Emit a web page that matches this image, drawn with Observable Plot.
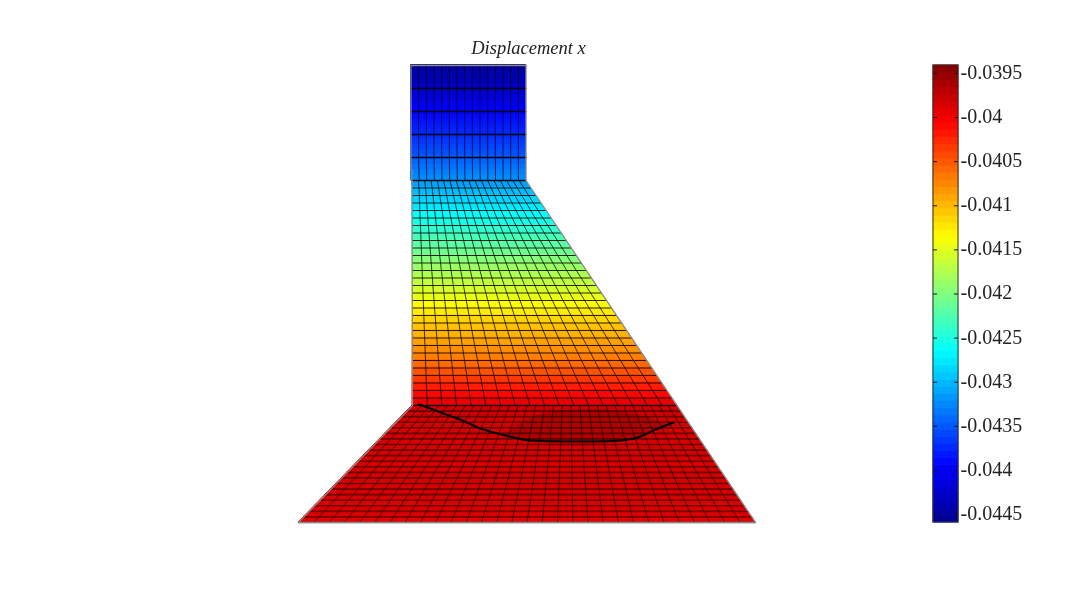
<!DOCTYPE html>
<html>
<head>
<meta charset="utf-8">
<script src="https://cdn.jsdelivr.net/npm/d3@7"></script>
<script src="https://cdn.jsdelivr.net/npm/@observablehq/plot@0.6"></script>
<style>
html,body{margin:0;padding:0;background:#fff;width:1080px;height:608px;overflow:hidden}
#main,#bar{position:absolute;top:0}
#main{left:0}
#bar{left:920px}
svg{display:block;background:transparent;filter:blur(0.35px)}
</style>
</head>
<body>
<div id="main"></div>
<div id="bar"></div>
<script>
// ---- Title and colour bar ----
const titleText = "Displacement x";
const tickValues = [-0.0395,-0.04,-0.0405,-0.041,-0.0415,-0.042,-0.0425,-0.043,-0.0435,-0.044,-0.0445];
const tickLabels = ["-0.0395","-0.04","-0.0405","-0.041","-0.0415","-0.042","-0.0425","-0.043","-0.0435","-0.044","-0.0445"];
const valueMin = -0.04459, valueMax = -0.03941;
// jet colour map stops (fractions of the value range)
const jetFractions = [0,0.125,0.375,0.625,0.875,1];
const jetColors = ["#000090","#0000ff","#00ffff","#ffff00","#ff0000","#800000"];

// ---- Upper block: mesh rows, colour bands ----
const blockRowY = [65,88,111,134,157,180];
const blockLeft = [410.5,410.5,410.5,410.5,410.5,411];
const blockRight = [525.5,525.5,525.5,525.5,525.5,525.5];
const blockColumns = 15;
const blockBandY = [65,70,75,80,85,90,95,100,105,110,115,120,125,130,135,140,145,150,155,160,165,170,175,180];
const blockBandValue = [-.04454,-.04448,-.04443,-.04437,-.04431,-.04425,-.04418,-.0441,-.04402,-.04395,-.04391,-.04386,-.04382,-.04378,-.04373,-.04368,-.04362,-.04357,-.04352,-.04346,-.0434,-.04333,-.04327,-.0432];

// ---- Sloped dam body ----
const damRowY = [180,187.5,195,202.5,210,217.5,225,232.5,240,247.5,255,262.5,270,277.5,285,292.5,300,307.5,315,322.5,330,337.5,345,352.5,360,367.5,375,382.5,390,397.5,405];
const damLeft = [411.5,412,412,412,412,412,412,412,412,412,412,412,412,412,412,412,412,412,412,412,412,412,412,412,412,412,412,412,412,412,412];
const damRight = [525,530,535,540,545,550,555.3,560.3,565.4,570.4,575.4,580.5,585.5,590.6,595.6,600.6,605.7,610.7,615.8,620.8,625.9,630.9,636,641,646,651.1,656.1,661.2,666.2,671.3,676.3];
const damValue = [-.0432,-.04304,-.04293,-.04281,-.0427,-.04259,-.04248,-.04236,-.04225,-.04214,-.04203,-.04192,-.04182,-.04172,-.04162,-.04152,-.04142,-.04131,-.0412,-.0411,-.041,-.04092,-.04084,-.04075,-.04066,-.04053,-.04042,-.04028,-.04014,-.04003,-.0399];
const damColumns = 18;

// ---- Foundation ----
const baseRowY = [405,410.6,416.1,421.7,427.3,432.9,438.4,444,449.6,455.1,460.7,466.3,471.9,477.4,483,488.6,494.1,499.7,505.3,510.9,516.4,522];
const baseLeft = [412,406.5,401.2,395.7,390.3,384.8,379.5,374,368.6,363.2,357.7,352.3,346.8,341.5,336,330.6,325.2,319.8,314.3,308.9,303.5,298];
const baseRight = [676.3,680,683.8,687.5,691.3,695,698.8,702.5,706.3,710,713.8,717.5,721.3,725,728.8,732.5,736.3,740,743.8,747.5,751.3,755];
const baseValue = [-.0398,-.03982,-.03983,-.03984,-.03984,-.03985,-.03985,-.03985,-.03985,-.03985,-.03985,-.03985,-.03985,-.03985,-.03985,-.03985,-.03985,-.03986,-.03987,-.03988,-.0399,-.03995];
const baseColumns = 30;

// ---- Contact curve and dark crescent above it ----
const contactX = [418,423,440,457,480,505,530,565,595,620,640,653,673];
const contactY = [404,405.5,412,418,428,435,440,441,441,440,436,430,422];
const crescentX = [505,530,565,595,620,640,653,665];
const crescentTop = [434,418,410,409,411,415,419,424];
const crescentBottom = [435,440,441,441,440,436,430,425];

// ---- Build the tables for the marks ----
function bands(ys, vs, lefts, rights, name){
  const out = [];
  for (let i = 0; i < ys.length - 1; i++) {
    const v = (vs[i] + vs[i+1]) / 2;
    out.push({band:name+i, xl:lefts[i],  xr:rights[i],  y:ys[i],   v});
    out.push({band:name+i, xl:lefts[i+1],xr:rights[i+1],y:ys[i+1], v});
  }
  return out;
}
const blockBandLeft = blockBandY.map(() => 410.5), blockBandRight = blockBandY.map(() => 525.5);
const fills = [
  ...bands(blockBandY, blockBandValue, blockBandLeft, blockBandRight, "b"),
  ...bands(damRowY, damValue, damLeft, damRight, "d"),
  ...bands(baseRowY, baseValue, baseLeft, baseRight, "f")
];

function meshLines(ys, lefts, rights, n, name){
  const rows = [], cols = [];
  ys.forEach((y,i) => {
    rows.push({id:name+"r"+i, x:lefts[i], y}, {id:name+"r"+i, x:rights[i], y});
    for (let j = 1; j < n; j++) cols.push({id:name+"c"+j, x:lefts[i]+(rights[i]-lefts[i])*j/n, y});
  });
  return {rows, cols};
}
const blockMesh = meshLines(blockRowY, blockLeft, blockRight, blockColumns, "b");
const damMesh = meshLines(damRowY, damLeft, damRight, damColumns, "d");
const baseMesh = meshLines(baseRowY, baseLeft, baseRight, baseColumns, "f");

const outline = [
  {x:410.5,y:65},{x:525.5,y:65},{x:525.5,y:180},{x:755,y:522},{x:298,y:522},{x:412,y:405},{x:411.5,y:170},{x:410.5,y:170},{x:410.5,y:65}
];

const colorScale = {
  type:"linear",
  domain: jetFractions.map(f => valueMin + f*(valueMax-valueMin)),
  range: jetColors,
  clamp:true
};

const main = Plot.plot({
  width:920, height:608, margin:0,
  x:{domain:[0,920],range:[0,920]},
  y:{domain:[0,608],range:[0,608]},
  axis:null,
  color:colorScale,
  marks:[
    Plot.area(fills,{x1:"xl",y1:"y",x2:"xr",y2:"y",z:"band",fill:"v",stroke:"v",strokeWidth:1}),
    Plot.areaY(crescentX.map((x,i)=>({x,y1:crescentTop[i],y2:crescentBottom[i]})),{x:"x",y1:"y1",y2:"y2",fill:"#600000",fillOpacity:0.3,curve:"monotone-x"}),
    Plot.line(blockMesh.cols,{x:"x",y:"y",z:"id",stroke:"#000",strokeOpacity:0.7,strokeWidth:1}),
    Plot.line(blockMesh.rows,{x:"x",y:"y",z:"id",stroke:"#000",strokeWidth:1.3}),
    Plot.line(damMesh.cols,{x:"x",y:"y",z:"id",stroke:"#000",strokeOpacity:0.75,strokeWidth:1}),
    Plot.line(damMesh.rows,{x:"x",y:"y",z:"id",stroke:"#000",strokeOpacity:0.85,strokeWidth:1}),
    Plot.line(baseMesh.cols,{x:"x",y:"y",z:"id",stroke:"#000",strokeOpacity:0.65,strokeWidth:0.95}),
    Plot.line(baseMesh.rows,{x:"x",y:"y",z:"id",stroke:"#000",strokeOpacity:0.5,strokeWidth:1.6}),
    Plot.line(outline,{x:"x",y:"y",stroke:"#8a8a8a",strokeWidth:1.3}),
    Plot.line(contactX.map((x,i)=>({x,y:contactY[i]})),{x:"x",y:"y",stroke:"#000",strokeWidth:1.9,curve:"monotone-x"}),
    Plot.text([titleText],{x:()=>528,y:()=>48,text:d=>d,fontFamily:"'Liberation Serif',serif",fontStyle:"italic",fontSize:18.5,fill:"#222",textAnchor:"middle",lineAnchor:"middle"})
  ]
});
document.getElementById("main").appendChild(main);

// ---- Colour bar ----
const levels = d3.range(64).map(i => ({
  y1: valueMin + (i/64)*(valueMax-valueMin),
  y2: valueMin + ((i+1)/64)*(valueMax-valueMin),
  v:  valueMin + ((i+0.5)/64)*(valueMax-valueMin)
}));
const tickRows = tickValues.map((v,i)=>({v,label:tickLabels[i]}));
const bar = Plot.plot({
  width:160, height:608, marginLeft:0, marginRight:0, marginTop:0, marginBottom:0,
  x:{domain:[0,1],range:[13,38]},
  y:{domain:[valueMin,valueMax],range:[522,65]},
  axis:null,
  color:colorScale,
  marks:[
    Plot.rect(levels,{x1:()=>0,x2:()=>1,y1:"y1",y2:"y2",fill:"v",stroke:"v",strokeWidth:1}),
    Plot.ruleY(tickRows,{y:"v",x1:()=>0,x2:()=>0.16,stroke:"#111",strokeWidth:1}),
    Plot.ruleY(tickRows,{y:"v",x1:()=>0.84,x2:()=>1,stroke:"#111",strokeWidth:1}),
    Plot.rect([{}],{x1:()=>0,x2:()=>1,y1:()=>valueMin,y2:()=>valueMax,fill:"none",stroke:"#333",strokeWidth:1}),
    Plot.text(tickRows,{x:()=>1,y:"v",text:"label",dx:2,dy:-1,textAnchor:"start",lineAnchor:"middle",fontFamily:"'Liberation Serif',serif",fontSize:20,fill:"#222"})
  ]
});
document.getElementById("bar").appendChild(bar);
</script>
</body>
</html>
